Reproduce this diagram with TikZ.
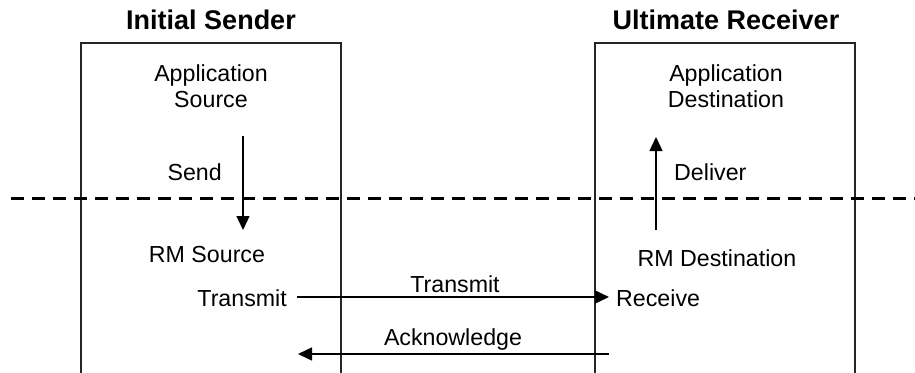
\documentclass[tikz,border=0pt]{standalone}
\usepackage{fontspec}
\setmainfont{Liberation Sans}
\usetikzlibrary{arrows.meta}
\begin{document}
\begin{tikzpicture}[x=1pt,y=-1pt,
  lbl/.style={inner sep=0pt,font=\fontsize{23.2}{26}\selectfont,align=center},
  ttl/.style={inner sep=0pt,font=\fontsize{27}{30}\selectfont\bfseries},
  boxline/.style={line width=1.5pt,draw=black!85},
  conn/.style={line width=1.5pt,-{Triangle[length=14pt,width=13pt]}},
  sep/.style={line width=3pt,dash pattern=on 13pt off 8pt}]
\useasboundingbox (0,0) rectangle (915,372);
% boxes
\coordinate (lbl) at (81,373); \coordinate (ltl) at (81,43);
\coordinate (ltr) at (341,43); \coordinate (lbr) at (341,373);
\coordinate (rbl) at (595,373); \coordinate (rtl) at (595,43);
\coordinate (rtr) at (855,43); \coordinate (rbr) at (855,373);
\draw[boxline] (lbl) -- (ltl) -- (ltr) -- (lbr);
\draw[boxline] (rbl) -- (rtl) -- (rtr) -- (rbr);
% titles
\node[ttl] (t1) at (211,20) {Initial Sender};
\node[ttl] (t2) at (726,20) {Ultimate Receiver};
% separator
\coordinate (d1) at (11,198.5); \coordinate (d2) at (915,198.5);
\draw[sep] (d1) -- (d2);
% left texts
\node[lbl] (as) at (211,86) {Application\\Source};
\node[lbl,anchor=east] (send) at (222,172) {Send};
\node[lbl] (rms) at (207,255) {RM Source};
\node[lbl,anchor=east] (tx) at (287,298) {Transmit};
% right texts
\node[lbl] (ad) at (726,86) {Application\\Destination};
\node[lbl,anchor=west] (dl) at (674,172) {Deliver};
\node[lbl] (rmd) at (717,258) {RM Destination};
\node[lbl,anchor=west] (rx) at (616,298) {Receive};
% middle labels
\node[lbl] (txl) at (455,284) {Transmit};
\node[lbl] (ack) at (453,339) {Acknowledge};
% connectors
\coordinate (s1) at (243,136); \coordinate (s2) at (243,230);
\draw[conn] (s1) -- (s2);
\coordinate (v1) at (656,230); \coordinate (v2) at (656,137);
\draw[conn] (v1) -- (v2);
\coordinate (a1) at (297,297); \coordinate (a2) at (609,297);
\draw[conn] (a1) -- (a2);
\coordinate (k1) at (609,354); \coordinate (k2) at (298,354);
\draw[conn] (k1) -- (k2);
\end{tikzpicture}
\end{document}
